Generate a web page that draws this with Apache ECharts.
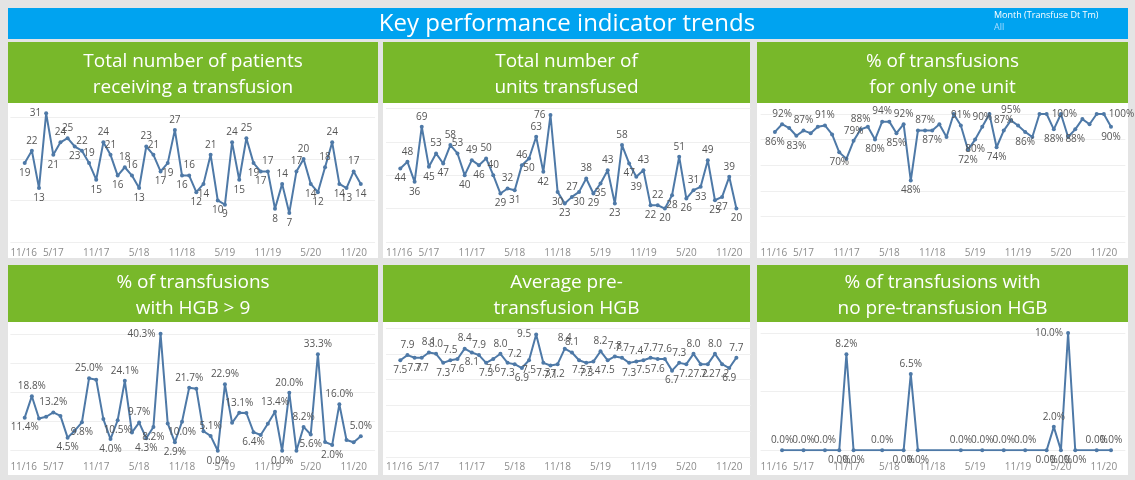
<!DOCTYPE html>
<html><head><meta charset="utf-8">
<script src="https://cdn.jsdelivr.net/npm/echarts@6/dist/echarts.min.js"></script>
<style>html,body{margin:0;padding:0;background:#e4e4e4}#c{width:1135px;height:480px}</style>
</head><body><div id="c"></div>
<script>
// ---------------- data ----------------
const months = ['2017-01','2017-02','2017-03','2017-04','2017-05','2017-06','2017-07','2017-08','2017-09','2017-10','2017-11','2017-12',
  '2018-01','2018-02','2018-03','2018-04','2018-05','2018-06','2018-07','2018-08','2018-09','2018-10','2018-11','2018-12',
  '2019-01','2019-02','2019-03','2019-04','2019-05','2019-06','2019-07','2019-08','2019-09','2019-10','2019-11','2019-12',
  '2020-01','2020-02','2020-03','2020-04','2020-05','2020-06','2020-07','2020-08','2020-09','2020-10','2020-11','2020-12'];
const patients = [19,22,13,31,21,24,25,23,22,19,15,24,21,16,18,16,13,23,21,17,19,27,16,16,
  12,14,21,10,9,24,15,25,19,17,17,8,14,7,17,20,14,12,18,24,14,13,17,14];
const unitsTransfused = [44,48,36,69,45,53,47,58,53,40,49,46,50,40,29,32,31,46,50,63,42,76,30,23,
  27,30,38,29,35,43,23,58,47,39,43,22,22,20,28,51,26,31,33,49,25,27,39,20];
const oneUnitPct = [86,92,89,83,87,85,90,91,84,70,65,79,88,90,80,94,94,85,92,48,87,87,87,92,
  82,100,91,72,80,90,100,74,87,95,91,86,82,100,100,88,100,82,88,96,92,100,100,90];
const hgbOver9Pct = [11.4,18.8,11.1,11.7,13.2,12.0,4.5,6.9,9.8,25.0,24.5,10.9,4.0,10.5,24.1,6.3,9.7,4.3,8.2,40.3,9.4,2.9,10.0,21.7,
  21.4,6.7,5.1,0.0,22.9,9.6,13.1,13.0,6.4,5.4,9.3,13.4,0.0,20.0,0.0,8.2,5.6,33.3,3.0,2.0,16.0,3.7,2.9,5.0];
const avgPreHgb = [7.5,7.9,7.7,7.7,8.1,8.0,7.3,7.5,7.6,8.4,8.1,7.9,7.3,7.6,8.0,7.3,7.2,6.9,7.5,9.5,7.3,7.1,7.2,8.4,
  8.1,7.5,7.3,7.4,8.2,7.5,7.8,7.7,7.3,7.4,7.5,7.7,7.6,7.6,6.7,7.3,7.2,8.0,7.2,7.2,8.0,7.2,6.9,7.7];
const noPreHgbMonths = ['2017-02','2017-05','2017-08','2017-10','2017-11','2017-12','2018-04','2018-07','2018-08','2018-09',
  '2019-03','2019-06','2019-09','2019-12','2020-03','2020-04','2020-05','2020-06','2020-07','2020-10','2020-12'];
const noPreHgbPct = [0,0,0,0,8.2,0,0,0,6.5,0,0,0,0,0,0,2.0,0,10.0,0,0,0];
const tickLabels = ['11/16','5/17','11/17','5/18','11/18','5/19','11/19','5/20','11/20'];
const panelTitles = [
  'Total number of patients\nreceiving a transfusion',
  'Total number of\nunits transfused',
  '% of transfusions\nfor only one unit',
  '% of transfusions\nwith HGB > 9',
  'Average pre-\ntransfusion HGB',
  '% of transfusions with\nno pre-transfusion HGB'];
const mainTitle = 'Key performance indicator trends';
const filterName = 'Month (Transfuse Dt Tm)';
const filterValue = 'All';

// ---------------- helpers ----------------
const mIdx = s => { const [y, m] = s.split('-').map(Number); return (y - 2017) * 12 + (m - 1); };
const tIdx = s => { const [m, y] = s.split('/').map(Number); return (2000 + y - 2017) * 12 + (m - 1); };
const tickVals = tickLabels.map(tIdx);
const FONT = '"Open Sans", "Noto Sans", sans-serif';

const seriesData = [
  { x: months, y: patients, fmt: v => String(v), max: 33, int: 10, hide: false },
  { x: months, y: unitsTransfused, fmt: v => String(v), max: 82, int: 20, hide: false },
  { x: months, y: oneUnitPct, fmt: v => v + '%', max: 107, int: 20, hide: true },
  { x: months, y: hgbOver9Pct, fmt: v => v.toFixed(1) + '%', max: 43, int: 10, hide: true },
  { x: months, y: avgPreHgb, fmt: v => v.toFixed(1), max: 10.15, int: 2, hide: false },
  { x: noPreHgbMonths, y: noPreHgbPct, fmt: v => v.toFixed(1) + '%', max: 10.6, int: 5, hide: false }
];

// ---------------- layout ----------------
const cols = [{ px: 8, pw: 370, gx: 10.4 }, { px: 383, pw: 367, gx: 386 }, { px: 757, pw: 371, gx: 760.6 }];
const rows = [{ py: 42, ph: 216, hh: 61, top: 105, bottom: 242, lm: 6, ty: 75 },
              { py: 265, ph: 210, hh: 57, top: 326, bottom: 457.3, lm: 5, ty: 296 }];
const gridW = 364.7;
const zeroBottom = { 3: 450.7, 5: 450.3 };

const grids = [], xAxes = [], yAxes = [], series = [], graphics = [];
graphics.push({ type: 'rect', shape: { x: 8, y: 8, width: 1120, height: 31 }, style: { fill: '#00a3f0' }, z: -10 });
graphics.push({ type: 'text', x: 567, y: 24, style: { text: mainTitle, fill: '#fff', fontSize: 24, fontFamily: FONT, align: 'center', verticalAlign: 'middle' }, z: 5 });
graphics.push({ type: 'text', x: 994, y: 15, style: { text: filterName, fill: '#fff', fontSize: 9, fontFamily: FONT, align: 'left', verticalAlign: 'middle' }, z: 5 });
graphics.push({ type: 'text', x: 994, y: 27, style: { text: filterValue, fill: '#a8dcff', fontSize: 9, fontFamily: FONT, align: 'left', verticalAlign: 'middle' }, z: 5 });

seriesData.forEach((d, i) => {
  const c = cols[i % 3], r = rows[Math.floor(i / 3)];
  graphics.push({ type: 'rect', shape: { x: c.px, y: r.py, width: c.pw, height: r.ph }, style: { fill: '#ffffff' }, z: -10 });
  graphics.push({ type: 'rect', shape: { x: c.px, y: r.py, width: c.pw, height: r.hh }, style: { fill: '#78b82a' }, z: -9 });
  graphics.push({ type: 'text', x: c.px + c.pw / 2, y: r.ty, style: { text: panelTitles[i], fill: '#fff', fontSize: 19, lineHeight: 26, fontFamily: FONT, align: 'center', verticalAlign: 'middle' }, z: 5 });

  const bottom = zeroBottom[i] || r.bottom;
  grids.push({ left: c.gx, width: gridW, top: r.top, height: bottom - r.top, containLabel: false, outerBoundsMode: 'none' });
  xAxes.push({
    type: 'value', gridIndex: i, min: -2, max: 49,
    axisLine: { show: false }, axisTick: { show: false }, splitLine: { show: false },
    axisLabel: { customValues: tickVals, formatter: v => tickLabels[tickVals.indexOf(v)] || '', color: '#8c8c8c', fontSize: 10,
      fontFamily: FONT, margin: r.lm + (bottom < r.bottom ? r.bottom - bottom : 0), alignMinLabel: 'left', hideOverlap: false }
  });
  yAxes.push({
    type: 'value', gridIndex: i, min: 0, max: d.max, interval: d.int,
    axisLine: { show: false }, axisTick: { show: false }, axisLabel: { show: false },
    splitLine: { show: true, showMaxLine: false, lineStyle: { color: '#efefef', width: 1 } }
  });
  const vals = d.y;
  const nearTop = v => v / d.max > 0.9;
  const data = vals.map((v, k) => {
    const p = k > 0 ? vals[k - 1] : null, n = k < vals.length - 1 ? vals[k + 1] : null;
    let pos = 'top';
    if (p !== null && n !== null) pos = v < (p + n) / 2 ? 'bottom' : 'top';
    else if (p !== null) pos = v < p ? 'bottom' : 'top';
    else if (n !== null) pos = v < n ? 'bottom' : 'top';
    if (pos === 'top' && nearTop(v)) pos = (p !== null && nearTop(p)) ? 'right' : 'left';
    return { value: [mIdx(d.x[k]), v], label: { position: pos } };
  });
  series.push({
    type: 'line', xAxisIndex: i, yAxisIndex: i, data,
    symbol: 'circle', symbolSize: 4, showSymbol: true,
    lineStyle: { color: '#4e79a7', width: 2 }, itemStyle: { color: '#4e79a7' },
    label: { show: true, fontSize: 10, color: '#555', distance: 3, fontFamily: FONT, formatter: pr => d.fmt(pr.value[1]) },
    labelLayout: d.hide ? { hideOverlap: true } : undefined,
    emphasis: { disabled: true }, z: 3
  });
});

const chart = echarts.init(document.getElementById('c'), null, { renderer: 'canvas' });
chart.setOption({
  backgroundColor: '#e4e4e4', animation: false,
  grid: grids, xAxis: xAxes, yAxis: yAxes, series, graphic: { elements: graphics }
});
</script></body></html>
